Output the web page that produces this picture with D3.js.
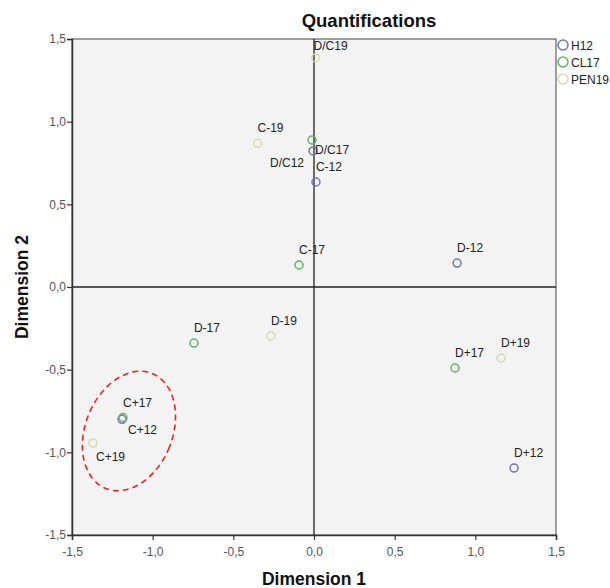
<!DOCTYPE html>
<html>
<head>
<meta charset="utf-8">
<script src="https://cdn.jsdelivr.net/npm/d3@7"></script>
<style>
  body { margin: 0; background: #fff; }
  svg text { font-family: "Liberation Sans", Arial, sans-serif; }
</style>
</head>
<body>
<div id="chart"></div>
<script>
// quantification points, one row per category
var labels = ["D/C12", "C-12", "D-12", "C+12", "D+12",
              "D/C17", "C-17", "D-17", "C+17", "D+17",
              "D/C19", "C-19", "D-19", "C+19", "D+19"];
var series = ["H12", "H12", "H12", "H12", "H12",
              "CL17", "CL17", "CL17", "CL17", "CL17",
              "PEN19", "PEN19", "PEN19", "PEN19", "PEN19"];
var dim1 = [-0.006, 0.012, 0.887, -1.19, 1.24,
            -0.012, -0.093, -0.744, -1.184, 0.874,
            0.01, -0.35, -0.267, -1.37, 1.159];
var dim2 = [0.823, 0.635, 0.145, -0.80, -1.095,
            0.889, 0.133, -0.339, -0.79, -0.49,
            1.385, 0.87, -0.296, -0.944, -0.43];

var legendNames = ["H12", "CL17", "PEN19"];
var tickValues = [-1.5, -1.0, -0.5, 0.0, 0.5, 1.0, 1.5];

var colors = {"H12": "#6c78b5", "CL17": "#5cb464", "PEN19": "#dbd7aa"};

// label placement (dx, dy in px from the point); default is above
var labelOffset = {
    "D/C19": [-2, -8],
    "D/C17": [3, 14],
    "D/C12": [-43, 16],
    "C+12": [6, 15],
    "C+19": [3, 18]
};

var width = 610, height = 588;
var margin = {top: 39, right: 54, bottom: 53, left: 72};

var svg = d3.select("#chart").append("svg")
    .attr("width", width)
    .attr("height", height);

var x = d3.scaleLinear().domain([-1.5, 1.5]).range([margin.left, width - margin.right]);
var y = d3.scaleLinear().domain([-1.5, 1.5]).range([height - margin.bottom, margin.top]);

// SPSS style: comma decimal, plain hyphen for minus
var fmt = function(d) { return d3.format(".1f")(d).replace(".", ",").replace("\u2212", "-"); };

// plot background
svg.append("rect")
    .attr("x", x(-1.5)).attr("y", y(1.5))
    .attr("width", x(1.5) - x(-1.5)).attr("height", y(-1.5) - y(1.5))
    .attr("fill", "#f3f3f3")
    .attr("stroke", "#444").attr("stroke-width", 1);

// reference lines through origin
svg.append("line")
    .attr("x1", x(0)).attr("x2", x(0)).attr("y1", y(1.5)).attr("y2", y(-1.5))
    .attr("stroke", "#222").attr("stroke-width", 1.3);
svg.append("line")
    .attr("x1", x(-1.5)).attr("x2", x(1.5)).attr("y1", y(0)).attr("y2", y(0))
    .attr("stroke", "#222").attr("stroke-width", 1.3);

// axes
var xAxis = svg.append("g")
    .attr("transform", "translate(0," + y(-1.5) + ")")
    .call(d3.axisBottom(x).tickValues(tickValues).tickFormat(fmt).tickSizeOuter(0).tickSize(5));
var yAxis = svg.append("g")
    .attr("transform", "translate(" + x(-1.5) + ",0)")
    .call(d3.axisLeft(y).tickValues(tickValues).tickFormat(fmt).tickSizeOuter(0).tickSize(5));

[xAxis, yAxis].forEach(function(g) {
    g.select(".domain").attr("stroke", "#333").attr("stroke-width", 1.5);
    g.selectAll(".tick line").attr("stroke", "#333").attr("stroke-width", 1.2);
    g.selectAll(".tick text")
        .attr("fill", "#555")
        .style("font-size", "12px")
        .style("font-family", "'Liberation Sans', Arial, sans-serif");
});
xAxis.selectAll(".tick text").attr("dy", "1.1em");
yAxis.selectAll(".tick text").attr("x", -6);

// titles
svg.append("text")
    .attr("x", 369).attr("y", 27)
    .attr("text-anchor", "middle")
    .style("font-size", "18.5px").style("font-weight", "bold")
    .attr("fill", "#111")
    .text("Quantifications");

svg.append("text")
    .attr("x", x(0)).attr("y", 585)
    .attr("text-anchor", "middle")
    .style("font-size", "17.5px").style("font-weight", "bold")
    .attr("fill", "#111")
    .text("Dimension 1");

svg.append("text")
    .attr("transform", "translate(28," + y(0) + ") rotate(-90)")
    .attr("text-anchor", "middle")
    .style("font-size", "17.5px").style("font-weight", "bold")
    .attr("fill", "#111")
    .text("Dimension 2");

// data rows
var points = labels.map(function(l, i) {
    return {label: l, series: series[i], d1: dim1[i], d2: dim2[i]};
});

// red dashed ellipse round the C+ group
svg.append("ellipse")
    .attr("transform", "translate(" + x(-1.147) + "," + y(-0.871) + ") rotate(22)")
    .attr("rx", x(-1.147 + 0.27) - x(-1.147))
    .attr("ry", y(-0.871) - y(-0.871 + 0.375))
    .attr("fill", "none")
    .attr("stroke", "#ee2222")
    .attr("stroke-width", 1.6)
    .attr("stroke-dasharray", "6,4");

svg.append("g")
    .selectAll("circle")
    .data(points)
    .enter()
    .append("circle")
        .attr("cx", function(d) { return x(d.d1); })
        .attr("cy", function(d) { return y(d.d2); })
        .attr("r", 4)
        .attr("fill", "none")
        .attr("stroke", function(d) { return colors[d.series]; })
        .attr("stroke-width", 1.5);

svg.append("g")
    .selectAll("text")
    .data(points)
    .enter()
    .append("text")
        .attr("x", function(d) { return x(d.d1) + (labelOffset[d.label] || [0, -11])[0]; })
        .attr("y", function(d) { return y(d.d2) + (labelOffset[d.label] || [0, -11])[1]; })
        .style("font-size", "12px")
        .attr("fill", "#222")
        .text(function(d) { return d.label; });

// legend
var legend = svg.append("g")
    .selectAll("g")
    .data(legendNames)
    .enter()
    .append("g")
        .attr("transform", function(d, i) { return "translate(563," + (45 + i * 17) + ")"; });
legend.append("circle")
    .attr("r", 5)
    .attr("fill", "none")
    .attr("stroke", function(d) { return colors[d]; })
    .attr("stroke-width", 1.5);
legend.append("text")
    .attr("x", 8).attr("y", 4.5)
    .style("font-size", "12px")
    .attr("fill", "#222")
    .text(function(d) { return d; });
</script>
</body>
</html>
